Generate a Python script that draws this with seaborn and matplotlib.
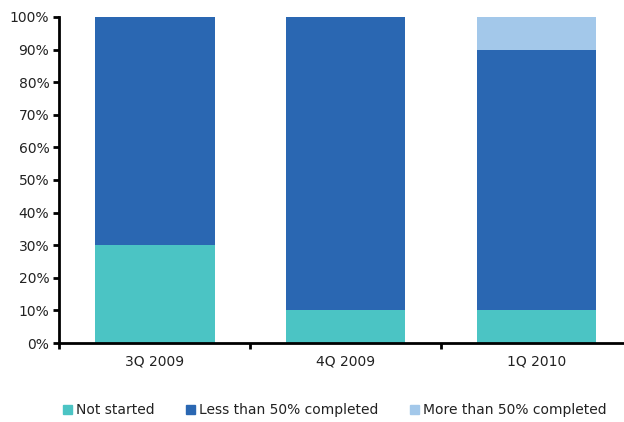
import matplotlib
matplotlib.use("Agg")
import matplotlib.pyplot as plt
import seaborn as sns
import pandas as pd

# Project status by quarter (share of projects, %)
quarters = ["3Q 2009", "4Q 2009", "1Q 2010"]
not_started = [30, 10, 10]
less_than_half = [70, 90, 80]
more_than_half = [0, 0, 10]

series_names = ["Not started", "Less than 50% completed", "More than 50% completed"]
series_colors = ["#4BC4C4", "#2A67B2", "#A3C8EA"]
y_ticks = [0, 10, 20, 30, 40, 50, 60, 70, 80, 90, 100]

sns.set_theme(style="white")
plt.rcParams["font.family"] = ["DejaVu Sans"]
plt.rcParams["text.color"] = "#222222"

df = pd.DataFrame({
    "quarter": quarters,
    series_names[0]: not_started,
    series_names[1]: less_than_half,
    series_names[2]: more_than_half,
})
cum = df[series_names].cumsum(axis=1)

fig = plt.figure(figsize=(6.24, 4.22), dpi=100)
ax = fig.add_axes([0.0946, 0.187, 0.9054, 0.773])

# Draw stacked bars from the top segment down so lower layers overlay
for name, color in reversed(list(zip(series_names, series_colors))):
    sns.barplot(x=df["quarter"], y=cum[name], order=quarters, color=color,
                width=0.628, saturation=1, ax=ax, linewidth=0)

ax.set_ylim(0, 100)
ax.set_xlim(-0.5, 2.458)
ax.set_yticks(y_ticks)
ax.set_yticklabels([f"{v}%" for v in y_ticks], fontsize=10, color="#222222")

# Category labels centred, tick marks on category boundaries
ax.set_xticks([-0.5, 0.5, 1.5])
ax.set_xticklabels([])
ax.set_xticks([0, 1, 2], minor=True)
ax.set_xticklabels(quarters, minor=True, fontsize=10, color="#222222")
ax.tick_params(axis="x", which="minor", length=0, pad=8)
ax.tick_params(axis="x", which="major", direction="out", length=4, width=2, color="black", bottom=True)
ax.tick_params(axis="y", direction="out", length=4, width=2, color="black", left=True, pad=3)

ax.set_xlabel("")
ax.set_ylabel("")
for side in ["top", "right"]:
    ax.spines[side].set_visible(False)
for side in ["left", "bottom"]:
    ax.spines[side].set_visible(True)
    ax.spines[side].set_color("black")
    ax.spines[side].set_linewidth(2)
ax.grid(False)

handles = [plt.Rectangle((0, 0), 1, 1, color=c) for c in series_colors]
fig.legend(handles, series_names, loc="center", bbox_to_anchor=(0.537, 0.028),
           ncol=3, frameon=False, fontsize=10, handlelength=0.65, handleheight=0.65,
           handletextpad=0.3, columnspacing=2.25)

fig.savefig("out.png", dpi=100)
